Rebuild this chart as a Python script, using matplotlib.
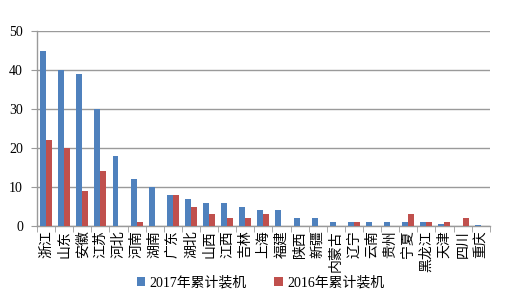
import matplotlib.pyplot as plt
import numpy as np

provinces = ['浙江', '山东', '安徽', '江苏', '河北', '河南', '湖南', '广东', '湖北', '山西',
             '江西', '吉林', '上海', '福建', '陕西', '新疆', '内蒙古', '辽宁', '云南', '贵州',
             '宁夏', '黑龙江', '天津', '四川', '重庆']
val_2017 = [45, 40, 39, 30, 18, 12, 10, 8, 7, 6, 6, 5, 4, 4, 2, 2, 1, 1, 1, 1,
             1, 1, 0.5, 0, 0.3]
val_2016 = [22, 20, 9, 14, 0, 1, 0, 8, 5, 3, 2, 2, 3, 0, 0, 0, 0, 1, 0, 0,
             3, 1, 1, 2, 0]
series_names = ['2017年累计装机', '2016年累计装机']

blue = '#4F81BD'
red = '#C0504D'
grid_color = '#9a9a9a'
fonts = ['Liberation Serif', 'Noto Sans CJK SC', 'DejaVu Sans']
plt.rcParams['font.family'] = fonts

fig = plt.figure(figsize=(5.21, 2.96), dpi=100)
ax = fig.add_axes([0.071, 0.2365, 0.869, 0.6585])

x = np.arange(len(provinces))
w = 0.33
ax.bar(x - w / 2, val_2017, width=w, color=blue, label=series_names[0], zorder=3)
ax.bar(x + w / 2, val_2016, width=w, color=red, label=series_names[1], zorder=3)

ax.set_xlim(-0.5, len(provinces) - 0.5)
ax.set_ylim(0, 50)
ax.set_yticks([0, 10, 20, 30, 40, 50])
ax.yaxis.grid(True, color=grid_color, linewidth=1.0, zorder=0)

ax.set_xticks(x)
ax.set_xticklabels(provinces, rotation=90, fontsize=10, family=['Noto Sans CJK SC'])
ax.set_xticks(np.arange(-0.5, len(provinces), 1), minor=True)
ax.tick_params(axis='x', which='major', length=0, pad=3)
ax.tick_params(axis='x', which='minor', length=4, color=grid_color, direction='out')
ax.tick_params(axis='y', length=4, color=grid_color, labelsize=10, pad=6)

for s in ['top', 'right']:
    ax.spines[s].set_visible(False)
for s in ['left', 'bottom']:
    ax.spines[s].set_color(grid_color)
    ax.spines[s].set_linewidth(1.0)

fig.legend(loc='center', bbox_to_anchor=(0.5, 0.045), ncol=2, frameon=False,
           fontsize=10, handlelength=0.6, handleheight=0.6, handletextpad=0.3,
           columnspacing=2.0)

fig.savefig('out.png', dpi=100)
